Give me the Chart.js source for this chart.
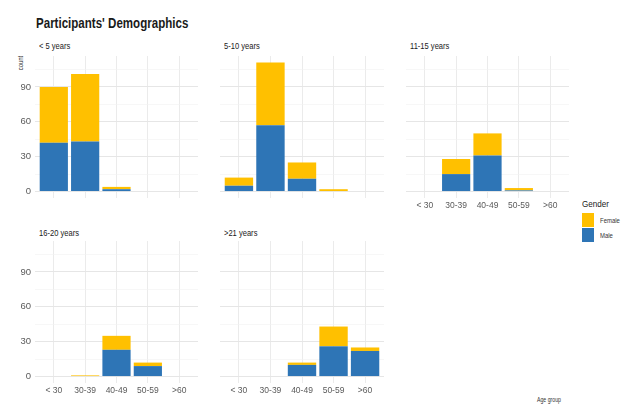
<!DOCTYPE html>
<html lang="en">
<head>
  <meta charset="UTF-8">
  <title>Participants' Demographics</title>
  <script src="https://cdn.jsdelivr.net/npm/chart.js"></script>
  <style>
    body {
      margin: 0;
      background: #fff;
      font-family: 'Liberation Sans', Arial, sans-serif;
    }
    #wrap { position: relative; width: 621px; height: 404px; overflow: hidden; }
    #wrap canvas { position: absolute; }
    .txt { position: absolute; white-space: nowrap; line-height: 1; color: #1a1a1a; }
    .narrow { transform-origin: left top; transform: scaleX(0.84); }
    #title { left: 36px; top: 15px; font-size: 15px; font-weight: bold; transform-origin: left top; transform: scaleX(0.77); }
    #ylab { left: 20px; top: 63px; font-size: 7px; color: #333; transform: translate(-50%, -50%) rotate(-90deg) scaleX(0.85); }
    #xlab { left: 549px; top: 400px; font-size: 6.5px; color: #333; transform: translate(-50%, -50%) scaleX(0.8); }
    #legend { position: absolute; left: 582px; top: 199px; }
    #legend .head { font-size: 9.5px; color: #1a1a1a; margin-bottom: 4px; line-height: 1; transform-origin: left top; transform: scaleX(0.85); }
    #legend .item { display: flex; align-items: center; height: 15px; }
    #legend .key { width: 12px; height: 13.5px; margin-right: 6px; flex: none; }
    #legend .lbl { font-size: 7px; color: #333; transform-origin: left center; transform: scaleX(0.85); }
  </style>
</head>
<body>
<div id="wrap">
  <div id="title" class="txt">Participants' Demographics</div>
  <div id="ylab" class="txt">count</div>
  <div id="xlab" class="txt">Age group</div>
  <div id="legend"><div class="head">Gender</div></div>
</div>

<script>
  // age groups on the x axis, one panel per teaching experience band
  const ageGroups = ['< 30', '30-39', '40-49', '50-59', '>60'];
  const experience = ['< 5 years', '5-10 years', '11-15 years', '16-20 years', '>21 years'];

  // counts per panel, in the same order as ageGroups
  const maleCounts = [
    [42, 43, 2, 0, 0],
    [5, 57, 11, 0, 0],
    [0, 15, 31, 1, 0],
    [0, 0, 23, 9, 0],
    [0, 0, 10, 26, 22]
  ];
  const femaleCounts = [
    [48, 58, 2, 0, 0],
    [7, 54, 14, 2, 0],
    [0, 13, 19, 2, 0],
    [0, 1, 12, 3, 0],
    [0, 0, 2, 17, 3]
  ];

  const countTicks = [0, 30, 60, 90];
  const gridTicks = [0, 15, 30, 45, 60, 75, 90, 105];
  const genders = ['Female', 'Male'];
  const genderColors = { Female: '#FFC000', Male: '#2E75B6' };

  // facet grid geometry (plot area of each panel)
  const colLeft = [35, 220, 406];
  const colWidth = [163, 164, 163];
  const rowTop = [56, 241];
  const plotH = 142;
  const yAxisW = 35;
  const xAxisH = 20;

  Chart.defaults.font.family = "'Liberation Sans', Arial, sans-serif";

  const wrap = document.getElementById('wrap');

  experience.forEach((name, i) => {
    const col = i % 3;
    const row = Math.floor(i / 3);
    const showY = col === 0;
    const showX = row === 1 || i === 2;

    const canvas = document.createElement('canvas');
    canvas.width = colWidth[col] + (showY ? yAxisW : 0);
    canvas.height = plotH + (showX ? xAxisH : 0);
    canvas.style.left = (colLeft[col] - (showY ? yAxisW : 0)) + 'px';
    canvas.style.top = rowTop[row] + 'px';
    wrap.appendChild(canvas);

    // strip label
    const strip = document.createElement('div');
    strip.className = 'txt narrow';
    strip.textContent = name;
    strip.style.fontSize = '9px';
    strip.style.left = (colLeft[col] + 4) + 'px';
    strip.style.top = (row === 0 ? 42 : 229) + 'px';
    wrap.appendChild(strip);

    new Chart(canvas.getContext('2d'), {
      type: 'bar',
      data: {
        datasets: [
          {
            label: 'Male',
            data: maleCounts[i].map((v, k) => ({ x: k, y: v })),
            backgroundColor: genderColors.Male
          },
          {
            label: 'Female',
            data: femaleCounts[i].map((v, k) => ({ x: k, y: v })),
            backgroundColor: genderColors.Female
          }
        ]
      },
      options: {
        responsive: false,
        animation: false,
        events: [],
        layout: { padding: 0 },
        datasets: { bar: { categoryPercentage: 1, barPercentage: 0.9, borderWidth: 0 } },
        plugins: { legend: { display: false }, tooltip: { enabled: false } },
        scales: {
          x: {
            type: 'linear',
            min: -0.6,
            max: 4.6,
            offset: false,
            stacked: true,
            border: { display: false },
            grid: { color: '#ebebeb', lineWidth: 1, drawTicks: false, offset: false },
            afterBuildTicks: s => { s.ticks = ageGroups.map((g, k) => ({ value: k })); },
            afterFit: s => {
              s.height = showX ? xAxisH : 0;
              s.paddingLeft = 0;
              s.paddingRight = 0;
            },
            ticks: {
              display: showX,
              padding: 3,
              color: '#5a5a5a',
              font: { size: 8.5 },
              maxRotation: 0,
              autoSkip: false,
              callback: v => ageGroups[v]
            }
          },
          y: {
            min: -5.55,
            max: 116.55,
            stacked: true,
            border: { display: false },
            grid: {
              drawTicks: false,
              color: c => countTicks.includes(c.tick.value) ? '#e6e6e6' : '#f1f1f1',
              lineWidth: c => countTicks.includes(c.tick.value) ? 1 : 0.6
            },
            afterBuildTicks: s => { s.ticks = gridTicks.map(v => ({ value: v })); },
            afterFit: s => {
              s.width = showY ? yAxisW : 0;
              s.paddingTop = 0;
              s.paddingBottom = 0;
            },
            ticks: {
              display: showY,
              padding: 4,
              color: '#5a5a5a',
              font: { size: 9.5 },
              callback: v => countTicks.includes(v) ? v : ''
            }
          }
        }
      }
    });
  });

  // legend keys, female listed first
  const legend = document.getElementById('legend');
  genders.forEach(g => {
    const item = document.createElement('div');
    item.className = 'item';
    item.innerHTML = '<span class="key" style="background:' + genderColors[g] + '"></span><span class="lbl">' + g + '</span>';
    legend.appendChild(item);
  });
</script>
</body>
</html>
